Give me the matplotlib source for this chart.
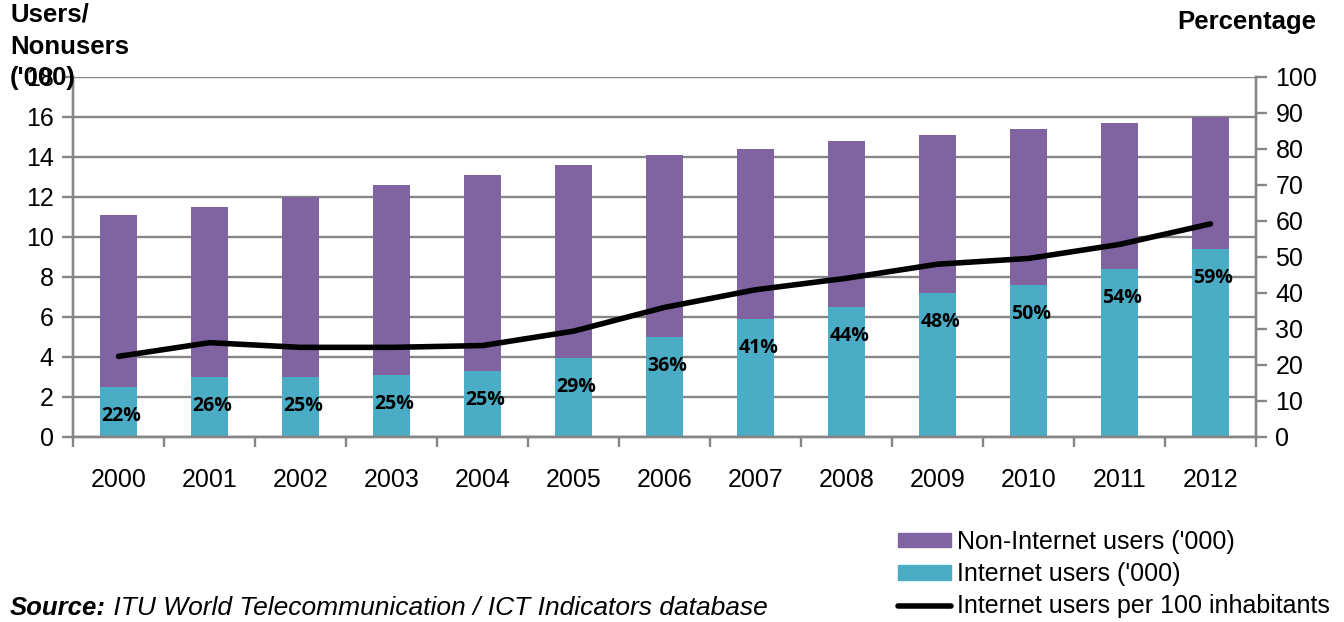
import matplotlib
matplotlib.use('Agg')
import matplotlib.pyplot as plt
import numpy as np
from matplotlib.patches import Patch
from matplotlib.lines import Line2D

years = ['2000', '2001', '2002', '2003', '2004', '2005', '2006',
         '2007', '2008', '2009', '2010', '2011', '2012']
internet_users = [2.5, 3.0, 3.0, 3.1, 3.3, 3.95, 5.0, 5.9, 6.5, 7.2, 7.6, 8.4, 9.4]
total_pop = [11.1, 11.5, 12.0, 12.6, 13.1, 13.6, 14.1, 14.4, 14.8, 15.1, 15.4, 15.7, 16.0]
non_users = [t - u for t, u in zip(total_pop, internet_users)]
per_100 = [22.4, 26.2, 24.9, 24.9, 25.4, 29.4, 36.0, 40.9, 44.1, 48.0, 49.6, 53.5, 59.2]
pct_labels = ['22%', '26%', '25%', '25%', '25%', '29%', '36%',
              '41%', '44%', '48%', '50%', '54%', '59%']

purple = '#8064A2'
teal = '#4BACC6'
grey = '#868686'

plt.rcParams['font.family'] = ['Liberation Sans', 'DejaVu Sans']
fs = 18

fig = plt.figure(figsize=(13.44, 6.22), dpi=100)
ax = fig.add_axes([73/1344, 1-437/622, (1256-73)/1344, (437-77)/622])
ax2 = ax.twinx()

x = np.arange(len(years))
ax.bar(x, internet_users, 0.4, color=teal, zorder=2)
ax.bar(x, non_users, 0.4, bottom=internet_users, color=purple, zorder=2)

# labels sit just inside the top of the teal part
for i, lab in enumerate(pct_labels):
    ax.annotate(lab, (x[i], internet_users[i]), xytext=(2, -21),
                textcoords='offset points', ha='center', va='center',
                fontsize=14, fontweight='bold', family='Open Sans', zorder=5)

ax2.plot(x, per_100, color='black', lw=4, solid_capstyle='round', zorder=4)

ax.set_xlim(-0.5, len(years) - 0.5)
ax.set_ylim(0, 18)
ax.set_yticks(range(0, 19, 2))
ax2.set_ylim(0, 100)
ax2.set_yticks(range(0, 101, 10))
ax.yaxis.grid(True, color=grey, lw=1.7, zorder=0)
ax.set_axisbelow(True)

ax.set_xticks(x)
ax.set_xticklabels(years)
ax.set_xticks(np.arange(-0.5, len(years), 1), minor=True)
ax.tick_params(axis='x', which='major', length=0, pad=22, labelsize=fs)
ax.tick_params(axis='x', which='minor', length=7, width=1.7, color=grey)
ax.tick_params(axis='y', length=8, width=1.7, color=grey, labelsize=fs, pad=6)
ax2.tick_params(axis='y', length=8, width=1.7, color=grey, labelsize=fs, pad=6)

for a in (ax, ax2):
    a.spines['top'].set_visible(False)
    for s in ('left', 'right', 'bottom'):
        a.spines[s].set_color(grey)
        a.spines[s].set_linewidth(1.7)

fig.text(10/1344, 1-3/622, "Users/\nNonusers\n('000)", fontsize=18.5,
         fontweight='bold', va='top', ha='left', linespacing=1.4)
fig.text(1316/1344, 1-22/622, 'Percentage', fontsize=18.5,
         fontweight='bold', va='center', ha='right')

src = fig.text(10/1344, 1-608/622, 'Source:', fontsize=18.5, fontweight='bold',
               style='italic', va='center')
fig.canvas.draw()
ax.annotate(' ITU World Telecommunication / ICT Indicators database',
            xy=(1, 0), xycoords=src, va='bottom', ha='left',
            fontsize=19, style='italic')

handles = [Patch(color=purple), Patch(color=teal),
           Line2D([], [], color='black', lw=4, solid_capstyle='round')]
labels = ["Non-Internet users ('000)", "Internet users ('000)",
          'Internet users per 100 inhabitants']
fig.legend(handles, labels, loc='upper left',
           bbox_to_anchor=(888/1344, 1-520/622), frameon=False,
           fontsize=18, handlelength=2.1, handleheight=0.5,
           handletextpad=0.25, labelspacing=0.33, borderaxespad=0)

fig.savefig('out.png', dpi=100)
